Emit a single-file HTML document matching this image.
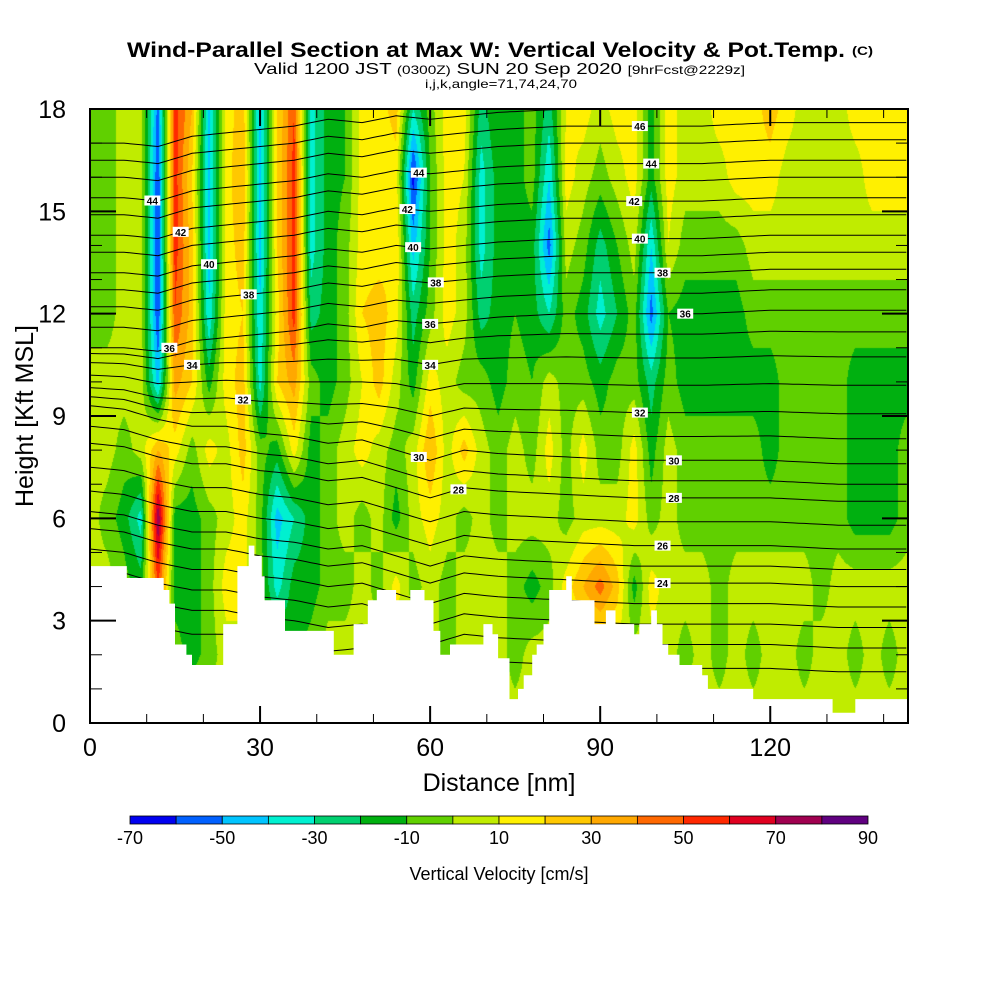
<!DOCTYPE html>
<html><head><meta charset="utf-8">
<style>
html,body{margin:0;padding:0;background:#fff;}
#wrap{position:relative;width:1000px;height:1000px;overflow:hidden;font-family:"Liberation Sans",sans-serif;}
canvas,svg{position:absolute;left:0;top:0;}
</style></head>
<body>
<div id="wrap">
<canvas id="field" width="1000" height="1000"></canvas>
<svg id="svg" width="1000" height="1000">
<g>
<text x="127" y="57" font-size="21" font-weight="bold" textLength="718" lengthAdjust="spacingAndGlyphs">Wind-Parallel Section at Max W: Vertical Velocity &amp; Pot.Temp.</text>
<text x="852" y="55" font-size="12" font-weight="bold" textLength="21" lengthAdjust="spacingAndGlyphs">(C)</text>
<text x="254" y="74" font-size="16" textLength="491" lengthAdjust="spacingAndGlyphs">Valid 1200 JST <tspan font-size="12">(0300Z)</tspan> SUN 20 Sep 2020 <tspan font-size="12">[9hrFcst@2229z]</tspan></text>
<text x="425" y="88" font-size="12" textLength="152" lengthAdjust="spacingAndGlyphs">i,j,k,angle=71,74,24,70</text>
</g>
<g id="contours"></g>
<g id="terrain"></g>
<g id="labels"></g>
<g id="axes"></g>
<g id="cbar"></g>
</svg>
</div>
<script>
// ---- data ----
const xNodes = [0,3,6,9,12,15,18,21,24,27,30,33,36,39,42,45,48,51,54,57,60,63,66,69,72,75,78,81,84,87,90,93,96,99,102,105,108,111,114,117,120,123,126,129,132,135,138,141,144];
const yNodes = [18,16,14,12,10,8,6,4,2,0];
const w18 = [-5,-5,5,5,-55,55,30,-45,15,25,-45,20,50,-35,-15,-10,15,15,25,-30,-5,15,15,-25,-10,-15,-5,-25,10,15,5,15,15,-15,15,5,5,15,15,15,25,15,5,5,5,15,15,15,15];
const w16 = [-5,-5,5,5,-60,55,20,-45,15,30,-45,20,55,-35,-15,-10,15,10,15,-65,-10,15,10,-35,-15,-15,-5,-40,15,5,-5,5,15,-15,15,5,5,5,15,15,15,5,5,5,5,5,15,15,15];
const w14 = [-5,-5,5,5,-60,55,25,-45,15,25,-45,20,55,-35,-15,-5,15,15,20,-45,-10,15,5,-35,-15,-15,-15,-55,5,-5,-25,-10,5,-40,10,-5,-5,-5,-5,5,5,5,5,5,5,5,5,5,5];
const w12 = [-5,-5,5,5,-60,50,25,-40,15,20,-40,15,55,-25,-15,-5,20,25,15,-25,-5,15,5,-25,-15,-10,-15,-30,-5,-15,-35,-20,-5,-55,-10,-15,-15,-15,-15,-5,-5,-5,-5,-5,-5,-5,-5,-5,-5];
const w10 = [5,5,5,5,-45,35,20,-15,15,25,-35,20,35,-5,-15,-5,10,25,5,-15,15,5,-5,-5,-15,-5,-10,5,-5,-5,-15,-5,-5,-25,-5,-15,-15,-15,-15,-15,-15,-5,-5,-5,-5,-15,-15,-15,-15];
const w8 = [5,5,-5,5,30,15,-5,15,5,25,-5,-15,15,-15,-5,5,15,5,-5,5,30,5,25,5,-5,5,-5,15,-5,15,-5,-5,15,-15,5,-5,-5,-5,-5,-5,-15,-5,-5,-5,-5,-15,-15,-15,-5];
const w6 = [5,-5,-15,-35,80,-15,-15,-5,5,15,-5,-45,-30,-15,-5,5,-5,5,-15,5,15,5,-5,5,-5,5,5,5,-5,5,5,5,15,-5,5,-5,-5,-5,-5,-5,-5,-5,-5,-5,-5,-15,-15,-15,-5];
const w4 = [5,5,-5,-15,50,-15,-15,-5,15,15,-5,-35,-15,-15,-5,-5,5,-5,15,-5,5,-5,5,5,5,-5,-15,-5,15,30,45,25,-15,15,5,5,5,-5,5,5,5,5,5,-5,5,5,5,5,5];
const w2 = [5,5,5,5,5,-5,-15,-5,5,5,5,-5,-15,-5,5,5,5,5,5,5,5,-5,5,5,5,-5,5,5,5,5,5,5,5,5,5,-5,5,-5,5,-5,5,5,-5,5,5,-5,5,-5,5];
const w0 = [5,5,5,5,5,5,5,5,5,5,5,5,5,5,5,5,5,5,5,5,5,5,5,5,5,5,5,5,5,5,5,5,5,5,5,5,5,5,5,5,5,5,5,5,5,5,5,5,5];
const colorEdges = [-70,-60,-50,-40,-30,-20,-10,0,10,20,30,40,50,60,70,80,90];
const colorBins = ["#0000f0","#0060ff","#00c4ff","#00f0d0","#00d070","#00b010","#60d000","#c0ec00","#fff000","#ffc800","#ffa800","#ff6800","#ff2800","#e00020","#a00050","#600080"];
const cbarTicks = [-70,-50,-30,-10,10,30,50,70,90];
const terrainX = [0,6.5,13,14,15,17,18,20.6,23.5,26,28,29,30.3,30.8,34.4,43,46.5,49,50.6,54,56.5,59,60.6,61.8,63.5,69.4,71,72,74,75.5,76.5,78,78.8,80,81,84,85,89,91,92.7,96,96.9,99,100,101,102,104,108,109,117,131,135,144.5];
const terrainH = [4.6,4.25,3.9,3.5,2.3,2.0,1.7,1.7,2.9,4.6,5.2,4.9,4.3,3.6,2.7,2.0,2.9,3.6,3.9,3.6,3.9,3.6,2.7,2.0,2.3,2.9,2.6,1.9,0.7,1.0,1.4,2.0,2.3,2.9,3.9,4.3,3.6,2.9,3.3,2.9,2.6,2.9,3.3,2.9,2.3,2.0,1.7,1.4,1.0,0.7,0.3,0.7,1.0];
const thetaLevels = [20,21,22,23,24,25,26,27,28,29,30,31,32,33,34,35,36,37,38,39,40,41,42,43,44,45,46,47];
const thetaRefHeight = [1.6,2.3,2.9,3.5,4.1,4.6,5.2,5.9,6.6,7.1,7.7,8.4,9.1,9.9,10.7,11.4,12.0,12.6,13.2,13.7,14.2,14.8,15.3,15.9,16.4,17.0,17.5,18.0];
const dispX = [0,6,12,18,24,30,36,42,48,54,60,66,72,84,96,108,120,132,144];
const dispLow = [1.6,1.5,1.2,1.0,1.0,0.8,0.7,0.5,0.6,0.3,0.0,0.3,0.2,0.1,0.0,0.0,0.0,-0.1,-0.1];
const dispHigh = [-1.0,-1.0,-1.1,-0.8,-0.7,-0.6,-0.5,-0.3,-0.4,-0.2,-0.3,-0.2,-0.1,0.0,0.0,0.0,0.1,0.1,0.1];
const labelNm = [11,16,21,28,14,18,27,58,56,57,61,60,60,58,65,97,96,97,97,103,103,101,101,101,99,105];
const labelLevel = [44,42,40,38,36,34,32,44,42,40,38,36,34,30,28,46,42,40,32,30,28,26,24,38,44,36];
// ---- geometry ----
const X0=90,X1=908,Y0=109,Y1=723,XMAX=144.3,YMAX=18;
function sx(nm){return X0+nm*(X1-X0)/XMAX;}
function sy(k){return Y1-k*(Y1-Y0)/YMAX;}
const rows=[w18,w16,w14,w12,w10,w8,w6,w4,w2,w0];
function interp1(xs,ys,x){if(x<=xs[0])return ys[0];for(let i=1;i<xs.length;i++){if(x<=xs[i]){const t=(x-xs[i-1])/(xs[i]-xs[i-1]);return ys[i-1]+t*(ys[i]-ys[i-1]);}}return ys[ys.length-1];}
function field(nm,k){
  let i=Math.min(xNodes.length-2,Math.max(0,Math.floor(nm/3)));
  let tx=(nm-xNodes[i])/3;tx=Math.max(0,Math.min(1,tx));
  let r=(18-k)/2;let j=Math.min(rows.length-2,Math.max(0,Math.floor(r)));let ty=Math.max(0,Math.min(1,r-j));
  const a=rows[j][i],b=rows[j][i+1],c=rows[j+1][i],d=rows[j+1][i+1];
  return (a*(1-tx)+b*tx)*(1-ty)+(c*(1-tx)+d*tx)*ty;
}
// ---- field ----
const cv=document.getElementById('field');const ctx=cv.getContext('2d');
ctx.fillStyle='#fff';ctx.fillRect(0,0,1000,1000);
const img=ctx.createImageData(X1-X0,Y1-Y0);
const rgb=colorBins.map(h=>[parseInt(h.substr(1,2),16),parseInt(h.substr(3,2),16),parseInt(h.substr(5,2),16)]);
for(let py=0;py<Y1-Y0;py++){const k=(Y1-Y0-py-0.5)*YMAX/(Y1-Y0);
 for(let px=0;px<X1-X0;px++){const nm=(px+0.5)*XMAX/(X1-X0);const v=field(nm,k);
  let idx=Math.floor((v-colorEdges[0])/10);idx=Math.max(0,Math.min(15,idx));const c=rgb[idx];const o=(py*(X1-X0)+px)*4;
  img.data[o]=c[0];img.data[o+1]=c[1];img.data[o+2]=c[2];img.data[o+3]=255;}}
ctx.putImageData(img,X0,Y0);
const NS='http://www.w3.org/2000/svg';
function mk(tag,attrs,parent){const e=document.createElementNS(NS,tag);for(const k in attrs)e.setAttribute(k,attrs[k]);parent.appendChild(e);return e;}
// ---- contours ----
function thetaHeight(li,nm){const lv=thetaLevels[li];const wH=Math.max(0,Math.min(1,(lv-30)/6));return thetaRefHeight[li]+(1-wH)*interp1(dispX,dispLow,nm)+wH*interp1(dispX,dispHigh,nm);}
const cg=document.getElementById('contours');
for(let li=0;li<thetaLevels.length;li++){
  let d='';for(let nm=0;nm<=XMAX;nm+=1){const k=thetaHeight(li,nm);d+=(nm===0?'M':'L')+sx(nm).toFixed(1)+','+Math.max(Y0,sy(k)).toFixed(1);}
  const p=mk('path',{d:d,fill:'none',stroke:'#000','stroke-width':1},cg);
  
  
}
// ---- terrain ----
const tg=document.getElementById('terrain');
let td='M'+sx(0)+','+(Y1+1);
for(let i=0;i<terrainX.length-1;i++){td+='L'+sx(terrainX[i]).toFixed(1)+','+sy(terrainH[i]).toFixed(1)+'L'+sx(terrainX[i+1]).toFixed(1)+','+sy(terrainH[i]).toFixed(1);}
td+='L'+X1+','+sy(terrainH[terrainH.length-1]).toFixed(1)+'L'+X1+','+(Y1+1)+'Z';
const tp=mk('path',{d:td,fill:'#fff',stroke:'none'},tg);


// ---- contour labels ----
const lg=document.getElementById('labels');
for(let i=0;i<labelNm.length;i++){const li=thetaLevels.indexOf(labelLevel[i]);const x=sx(labelNm[i]),y=sy(thetaHeight(li,labelNm[i]));
  const g=mk('g',{},lg);
  
  
  mk('rect',{x:x-8,y:y-5,width:16,height:10,fill:'#fff'},g);
  const t=mk('text',{x:x,y:y+4,'font-size':10,'text-anchor':'middle','font-weight':'bold'},g);t.textContent=labelLevel[i];}
// ---- axes ----
const ag=document.getElementById('axes');
mk('rect',{x:X0,y:Y0,width:X1-X0,height:Y1-Y0,fill:'none',stroke:'#000','stroke-width':2},ag);
for(let k=0;k<=18;k++){const y=sy(k);const major=k%3===0;const L=major?26:12;
  mk('line',{x1:X0,y1:y,x2:X0+L,y2:y,stroke:'#000','stroke-width':major?2:1},ag);
  mk('line',{x1:X1,y1:y,x2:X1-L,y2:y,stroke:'#000','stroke-width':major?2:1},ag);
  if(major){const t=mk('text',{x:66,y:y+9,'font-size':25,'text-anchor':'end'},ag);t.textContent=k;
    
    }}
for(let nm=0;nm<=140;nm+=10){const x=sx(nm);const major=nm%30===0;const L=major?17:9;
  mk('line',{x1:x,y1:Y1,x2:x,y2:Y1-L,stroke:'#000','stroke-width':major?2:1},ag);
  mk('line',{x1:x,y1:Y0,x2:x,y2:Y0+L,stroke:'#000','stroke-width':major?2:1},ag);
  if(major){const t=mk('text',{x:x,y:756,'font-size':25,'text-anchor':'middle'},ag);t.textContent=nm;
    
    }}
const xt=mk('text',{x:499,y:791,'font-size':25,'text-anchor':'middle'},ag);xt.textContent='Distance [nm]';


const yt=mk('text',{x:0,y:0,'font-size':25,'text-anchor':'middle',transform:'translate(33,416) rotate(-90)'},ag);yt.textContent='Height [Kft MSL]';


// ---- colorbar ----
const cbg=document.getElementById('cbar');
const CB0=130,CB1=868,CBY=816,CBH=8;const cw=(CB1-CB0)/colorBins.length;
for(let i=0;i<colorBins.length;i++){const r=mk('rect',{x:CB0+i*cw,y:CBY,width:cw,height:CBH,fill:colorBins[i],stroke:'#000','stroke-width':0.8},cbg);
  
  }
for(let i=0;i<cbarTicks.length;i++){const x=CB0+(cbarTicks[i]-colorEdges[0])/10*cw;const t=mk('text',{x:x,y:844,'font-size':18,'text-anchor':'middle'},cbg);t.textContent=cbarTicks[i];
  
  }
const ct=mk('text',{x:499,y:880,'font-size':18,'text-anchor':'middle'},cbg);ct.textContent='Vertical Velocity [cm/s]';


</script>
</body></html>
